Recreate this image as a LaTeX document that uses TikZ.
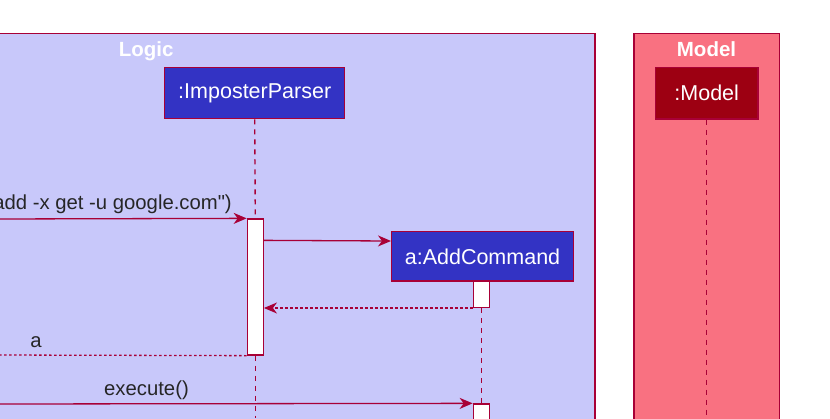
\documentclass[tikz,border=0pt]{standalone}
\usepackage{fontspec}
\setmainfont{Liberation Sans}
\newfontfamily\msgfont{Liberation Sans}
\usetikzlibrary{arrows.meta}
\definecolor{umlborder}{HTML}{A80036}
\definecolor{logicbg}{HTML}{C8C8FA}
\definecolor{logicdark}{HTML}{3333C4}
\definecolor{modelbg}{HTML}{F97181}
\definecolor{modeldark}{HTML}{9D0012}
\begin{document}
\begin{tikzpicture}[x=1pt,y=-1pt,
    grp/.style={draw=umlborder,line width=1.4pt},
    grptitle/.style={text=white,font=\fontsize{20.5}{24}\selectfont\bfseries,inner sep=0pt,anchor=base},
    part/.style={draw=umlborder,line width=1.4pt,text=white,font=\fontsize{21.5}{25}\selectfont,inner sep=0pt},
    actbar/.style={draw=umlborder,fill=white,line width=1.3pt,minimum width=16pt,inner sep=0pt},
    life/.style={umlborder,line width=1.4pt,dash pattern=on 5pt off 5pt},
    msg/.style={umlborder,line width=1.3pt,-{Stealth[length=13pt,width=11pt,inset=4pt]}},
    ret/.style={msg,dash pattern=on 2.5pt off 2.5pt},
    lbl/.style={font=\msgfont\fontsize{20.3}{24}\selectfont,inner sep=0pt,text=black!85}]
    \useasboundingbox (0,0) rectangle (830,418);
    \clip (0,0) rectangle (830,418);
    \draw[grp,fill=logicbg] (-20,33.3) rectangle (595,440);
    \draw[grp,fill=modelbg] (634,33.3) rectangle (779.3,440);
    \node[grptitle] (logictitle) at (146.2,56.7) {Logic};
    \node[grptitle] (modeltitle) at (706.5,56.7) {Model};
    \node[part,fill=logicdark,minimum width=180pt,minimum height=51pt] (parser) at (254.7,93.2) {:ImposterParser};
    \node[part,fill=modeldark,minimum width=102.7pt,minimum height=51.5pt] (model) at (706.7,93.2) {:Model};
    \node[part,fill=logicdark,minimum width=181.6pt,minimum height=49.3pt] (add) at (482.5,256.4) {a:AddCommand};
    \node[actbar,minimum height=136pt] (parserbar) at (255.3,287) {};
    \node[actbar,minimum height=26.3pt] (addbar) at (481.3,294.2) {};
    \node[actbar,minimum height=40pt] (execbar) at (481.3,424) {};
    \coordinate (parserend) at (255.3,418);
    \coordinate (modelend) at (706.7,418);
    \coordinate (callin) at (-5,219);
    \coordinate (retout) at (-5,355);
    \coordinate (execin) at (-5,404);
    \draw[life] (parser.south) -- (parserbar.north);
    \draw[life] (parserbar.south) -- (parserend);
    \draw[life] (addbar.south) -- (execbar.north);
    \draw[life] (model.south) -- (modelend);
    \draw[msg] (callin) -- (parserbar.north west);
    \node[lbl,anchor=south east] (calllbl) at (232,214) {add -x get -u google.com")};
    \draw[msg] ([yshift=-22pt]parserbar.north east) -- ([yshift=15.4pt]add.west);
    \draw[ret] (addbar.south west) -- (parserbar.east |- addbar.south west);
    \draw[ret,-] (parserbar.south west) -- (retout);
    \node[lbl,anchor=base] (retlbl) at (36,347) {a};
    \draw[msg] (execin) -- (execbar.north west);
    \node[lbl,anchor=base] (execlbl) at (146.5,395) {execute()};
\end{tikzpicture}
\end{document}
